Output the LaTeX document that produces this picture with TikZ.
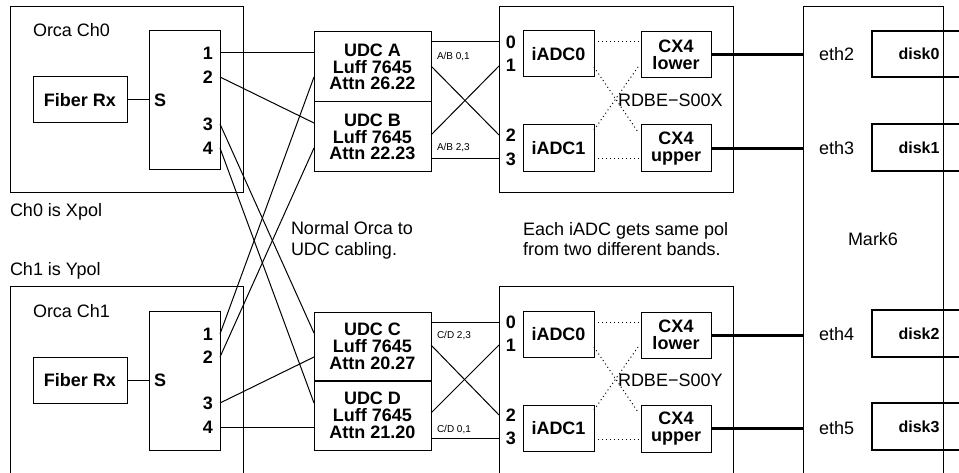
\documentclass[tikz,border=0pt]{standalone}
\usepackage{fontspec}
\setmainfont{Liberation Sans}
\begin{document}
\begin{tikzpicture}[x=1pt,y=-1pt,
  every node/.style={inner sep=0pt, outer sep=0pt},
  frame/.style={draw, line width=1pt},
  unit/.style={draw, line width=1pt, align=center,
    font=\bfseries\fontsize{18}{16.7}\selectfont},
  txt/.style={font=\fontsize{18}{21}\selectfont},
  port/.style={font=\bfseries\fontsize{18}{18}\selectfont},
  tag/.style={font=\fontsize{10}{10}\selectfont, anchor=west},
  disk/.style={draw, line width=2pt, font=\bfseries\fontsize{16}{16}\selectfont},
  wire/.style={line width=1pt},
  link/.style={line width=3pt},
  dots/.style={dash pattern=on 1pt off 3pt, line width=1pt},
  size/.style args={#1x#2}{minimum width=#1pt, minimum height=#2pt}
]
\clip (0,0) rectangle (959,473);

% ---------------- Orca channel 0 ----------------
\node[frame, size=233x186] (orca0) at (126.5,100) {};
\node[txt, anchor=base west] at (33,37) {Orca Ch0};
\node[unit, size=94x46] (fib0) at (80,100) {Fiber Rx};
\node[frame, size=71x139] (sw0) at (184.5,100.5) {};
\node[port, anchor=west] (s0) at (154,100) {S};
\node[port, anchor=east] at (213,53) {1};
\node[port, anchor=east] at (213,77) {2};
\node[port, anchor=east] at (213,124) {3};
\node[port, anchor=east] at (213,148) {4};
\draw[wire] (fib0.east) -- (fib0.east -| sw0.west);
\node[txt, anchor=base west] at (10,217) {Ch0 is Xpol};

% ---------------- Orca channel 1 ----------------
\node[txt, anchor=base west] at (10,276) {Ch1 is Ypol};
\node[frame, size=233x233] (orca1) at (126.5,403.5) {};
\node[txt, anchor=base west] at (33,317) {Orca Ch1};
\node[unit, size=94x46] (fib1) at (80,380) {Fiber Rx};
\node[frame, size=71x139] (sw1) at (184.5,380.5) {};
\node[port, anchor=west] (s1) at (154,380) {S};
\node[port, anchor=east] at (213,334) {1};
\node[port, anchor=east] at (213,357) {2};
\node[port, anchor=east] at (213,403) {3};
\node[port, anchor=east] at (213,427) {4};
\draw[wire] (fib1.east) -- (fib1.east -| sw1.west);

% ---------------- Up/down converters ----------------
\node[unit, size=117x70] (udcA) at (372.5,67) {UDC A\\Luff 7645\\Attn 26.22};
\node[unit, size=117x70] (udcB) at (372.5,137) {UDC B\\Luff 7645\\Attn 22.23};
\node[unit, size=117x69] (udcC) at (372.5,346.5) {UDC C\\Luff 7645\\Attn 20.27};
\node[unit, size=117x69] (udcD) at (372.5,415.5) {UDC D\\Luff 7645\\Attn 21.20};
\draw[line width=2pt] (udcC.south west) -- (udcC.south east);

% splitter outputs
\coordinate (o0p1) at (220,53);  \coordinate (o0p2) at (220,77);
\coordinate (o0p3) at (220,124); \coordinate (o0p4) at (220,148);
\coordinate (o1p1) at (220,334); \coordinate (o1p2) at (220,357);
\coordinate (o1p3) at (220,403); \coordinate (o1p4) at (220,427);
% converter inputs
\coordinate (inA1) at (314,53);  \coordinate (inA2) at (314,77);
\coordinate (inB1) at (314,123); \coordinate (inB2) at (314,148);
\coordinate (inC1) at (314,333); \coordinate (inC2) at (314,357);
\coordinate (inD1) at (314,403); \coordinate (inD2) at (314,427);

\draw[wire] (o0p1) -- (inA1);
\draw[wire] (o0p2) -- (inB1);
\draw[wire] (o0p3) -- (inC1);
\draw[wire] (o0p4) -- (inD1);
\draw[wire] (o1p1) -- (inA2);
\draw[wire] (o1p2) -- (inB2);
\draw[wire] (o1p3) -- (inC2);
\draw[wire] (o1p4) -- (inD2);

\node[txt, anchor=base west] at (291,235) {Normal Orca to};
\node[txt, anchor=base west] at (291,256) {UDC cabling.};
\node[txt, anchor=base west] at (523,236) {Each iADC gets same pol};
\node[txt, anchor=base west] at (523,256) {from two different bands.};

% ---------------- RDBE X ----------------
\node[frame, size=234x186] (rdbeX) at (616,100) {};
\node[unit, size=71x46] (iadc0X) at (558.5,54) {iADC0};
\node[unit, size=71x47] (iadc1X) at (558.5,148.5) {iADC1};
\node[unit, size=70x46] (cx4lX) at (676,55) {CX4\\lower};
\node[unit, size=70x47] (cx4uX) at (676,148.5) {CX4\\upper};
\node[txt, anchor=west] at (618,100) {RDBE−S00X};
\node[port] at (511,42) {0};
\node[port] at (511,65) {1};
\node[port] at (511,135) {2};
\node[port] at (511,159) {3};

\coordinate (outA1) at (431,42);  \coordinate (outA2) at (431,66);
\coordinate (outB1) at (431,135); \coordinate (outB2) at (431,159);
\coordinate (rx0) at (499,42);  \coordinate (rx1) at (499,66);
\coordinate (rx2) at (499,135); \coordinate (rx3) at (499,159);
\draw[wire] (outA1) -- (rx0);
\draw[wire] (outA2) -- (rx2);
\draw[wire] (outB1) -- (rx1);
\draw[wire] (outB2) -- (rx3);
\node[tag] at (437,57) {A/B 0,1};
\node[tag] at (437,148) {A/B 2,3};

\draw[dots] (iadc0X.east |- 0,42) -- (cx4lX.west |- 0,42);
\draw[dots] (iadc0X.east |- 0,67) -- (638,132);
\draw[dots] (iadc1X.east |- 0,130) -- (638,67);
\draw[dots] (iadc1X.east |- 0,159) -- (cx4uX.west |- 0,159);

% ---------------- RDBE Y ----------------
\node[frame, size=234x233] (rdbeY) at (616,403.5) {};
\node[unit, size=71x46] (iadc0Y) at (558.5,334) {iADC0};
\node[unit, size=71x46] (iadc1Y) at (558.5,428) {iADC1};
\node[unit, size=70x46] (cx4lY) at (676,335) {CX4\\lower};
\node[unit, size=70x47] (cx4uY) at (676,428.5) {CX4\\upper};
\node[txt, anchor=west] at (618,380) {RDBE−S00Y};
\node[port] at (511,322) {0};
\node[port] at (511,345) {1};
\node[port] at (511,415) {2};
\node[port] at (511,438) {3};

\coordinate (outC1) at (431,322); \coordinate (outC2) at (431,345);
\coordinate (outD1) at (431,413); \coordinate (outD2) at (431,438);
\coordinate (ry0) at (499,322); \coordinate (ry1) at (499,345);
\coordinate (ry2) at (499,415); \coordinate (ry3) at (499,438);
\draw[wire] (outC1) -- (ry0);
\draw[wire] (outC2) -- (ry2);
\draw[wire] (outD1) -- (ry1);
\draw[wire] (outD2) -- (ry3);
\node[tag] at (437,336) {C/D 2,3};
\node[tag] at (437,430) {C/D 0,1};

\draw[dots] (iadc0Y.east |- 0,322) -- (cx4lY.west |- 0,322);
\draw[dots] (iadc0Y.east |- 0,347) -- (638,412);
\draw[dots] (iadc1Y.east |- 0,410) -- (638,347);
\draw[dots] (iadc1Y.east |- 0,439) -- (cx4uY.west |- 0,439);

% ---------------- Mark6 recorder ----------------
\node[disk, size=94x46] (disk0) at (919,54) {disk0};
\node[disk, size=94x47] (disk1) at (919,147.5) {disk1};
\node[disk, size=94x47] (disk2) at (919,333.5) {disk2};
\node[disk, size=94x47] (disk3) at (919,426.5) {disk3};
\node[frame, size=140x513] (mark6) at (873,263.5) {};
\node[txt, anchor=base] at (873,246) {Mark6};

\draw[link] (cx4lX.east) -- (cx4lX.east -| mark6.west);
\draw[link] (cx4uX.east) -- (cx4uX.east -| mark6.west);
\draw[link] (cx4lY.east) -- (cx4lY.east -| mark6.west);
\draw[link] (cx4uY.east) -- (cx4uY.east -| mark6.west);
\node[txt, anchor=west] at (819,54) {eth2};
\node[txt, anchor=west] at (819,148) {eth3};
\node[txt, anchor=west] at (819,334) {eth4};
\node[txt, anchor=west] at (819,428) {eth5};
\end{tikzpicture}
\end{document}
